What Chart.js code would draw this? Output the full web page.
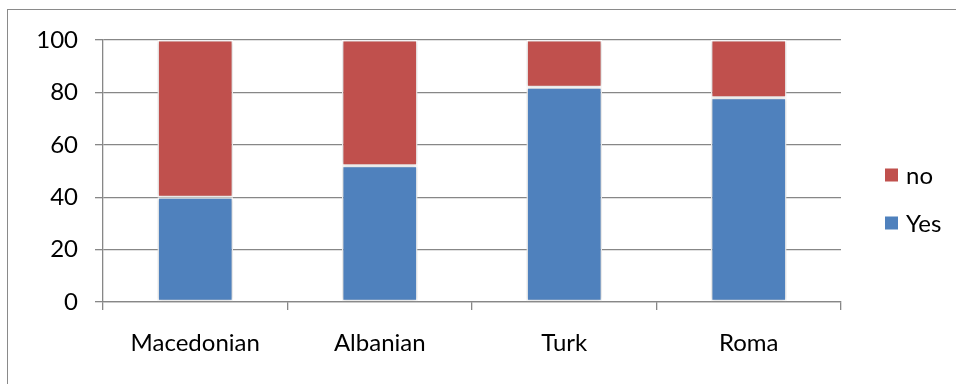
<!DOCTYPE html>
<html>
<head>
<meta charset="utf-8">
<script src="https://cdn.jsdelivr.net/npm/chart.js@4.4.1/dist/chart.umd.min.js"></script>
<style>
  html, body { margin: 0; padding: 0; background: #fff; }
  #wrap { position: relative; width: 956px; height: 384px; overflow: hidden; }
  #frame {
    position: absolute; left: 7px; top: 9px; width: 2000px; height: 2000px;
    border-left: 1.5px solid #8a8a8a; border-top: 1.5px solid #8a8a8a;
  }
  canvas { position: absolute; left: 0; top: 0; }
</style>
</head>
<body>
<div id="wrap">
  <div id="frame"></div>
  <canvas id="c" width="956" height="384"></canvas>
</div>
<script>
// Share of respondents answering yes / no, by ethnic group
const categories = ['Macedonian', 'Albanian', 'Turk', 'Roma'];
const yesValues = [40, 52, 82, 78];
const noValues = [60, 48, 18, 22];
const yTicks = [0, 20, 40, 60, 80, 100];

const FONT = 'Lato';
const FONT_SIZE = 24;
const GRID = '#878787';

// Soft drop shadow behind the bar stacks
const barShadow = {
  id: 'barShadow',
  beforeDatasetsDraw(chart) {
    const ctx = chart.ctx;
    ctx.save();
    ctx.shadowColor = 'rgba(0,0,0,0.22)';
    ctx.shadowBlur = 4;
    ctx.shadowOffsetX = 0;
    ctx.shadowOffsetY = 0;
  },
  afterDatasetsDraw(chart) {
    chart.ctx.restore();
  }
};

// Legend to the right of the plot, top series listed first
const sideLegend = {
  id: 'sideLegend',
  afterDraw(chart) {
    const ctx = chart.ctx;
    const area = chart.chartArea;
    const items = chart.data.datasets.slice().reverse();
    const gap = 48;
    const midY = (area.top + area.bottom) / 2 + 28;
    const startY = midY - gap * (items.length - 1) / 2;
    const boxX = area.right + 44;
    ctx.save();
    ctx.font = FONT_SIZE + 'px ' + FONT;
    ctx.textBaseline = 'middle';
    ctx.textAlign = 'left';
    items.forEach((ds, i) => {
      const y = startY + i * gap;
      ctx.fillStyle = ds.backgroundColor;
      ctx.fillRect(boxX, y - 6.5, 13, 13);
      ctx.fillStyle = '#000';
      ctx.fillText(ds.label, boxX + 21, y + 1);
    });
    ctx.restore();
  }
};

new Chart(document.getElementById('c'), {
  type: 'bar',
  data: {
    labels: categories,
    datasets: [
      { label: 'Yes', data: yesValues, backgroundColor: '#4F81BD', borderColor: '#ffffff', borderWidth: 1.5, borderSkipped: false },
      { label: 'no', data: noValues, backgroundColor: '#C0504D', borderColor: '#ffffff', borderWidth: 1.5, borderSkipped: false }
    ]
  },
  options: {
    responsive: false,
    animation: false,
    events: [],
    layout: { padding: { left: 38, top: 40, right: 115, bottom: 0 } },
    datasets: { bar: { categoryPercentage: 1, barPercentage: 0.41 } },
    plugins: {
      legend: { display: false },
      tooltip: { enabled: false }
    },
    scales: {
      x: {
        stacked: true,
        afterFit(scale) { scale.height = 82; },
        grid: { offset: true, drawOnChartArea: false, drawTicks: true, tickLength: 8, color: GRID, lineWidth: 1.3 },
        border: { display: true, color: GRID, width: 1.3 },
        ticks: { color: '#000', font: { family: FONT, size: FONT_SIZE }, padding: 19, maxRotation: 0 }
      },
      y: {
        stacked: true,
        min: 0,
        max: 100,
        afterBuildTicks(scale) { scale.ticks = yTicks.map(v => ({ value: v })); },
        afterFit(scale) { scale.width = 65; },
        grid: { color: GRID, lineWidth: 1.3, tickLength: 8, drawTicks: true },
        border: { display: true, color: GRID, width: 1.3 },
        ticks: { color: '#000', font: { family: FONT, size: FONT_SIZE }, padding: 17 }
      }
    }
  },
  plugins: [barShadow, sideLegend]
});
</script>
</body>
</html>
